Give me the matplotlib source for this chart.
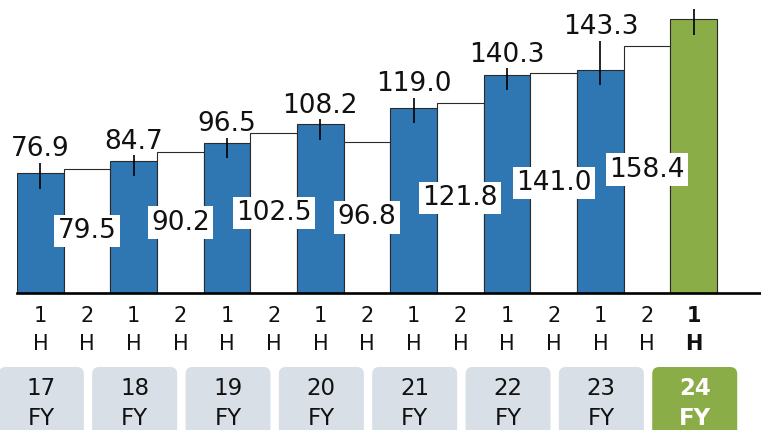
import matplotlib
matplotlib.use("Agg")
import matplotlib.pyplot as plt
from matplotlib.patches import FancyBboxPatch
from matplotlib.transforms import blended_transform_factory, IdentityTransform

plt.rcParams['font.family'] = ['DejaVu Sans']

# Data: half-year sales, 17FY 1H through 24FY 1H
fiscal_years = ['17', '18', '19', '20', '21', '22', '23', '24']
halves = ['1', '2'] * 7 + ['1']
sales = [76.9, 79.5, 84.7, 90.2, 96.5, 102.5, 108.2, 96.8,
         119.0, 121.8, 140.3, 141.0, 143.3, 158.4, 176.0]
value_labels = ['76.9', '79.5', '84.7', '90.2', '96.5', '102.5', '108.2', '96.8',
                '119.0', '121.8', '140.3', '141.0', '143.3', '158.4', '']

# Styling
BLUE = '#2e77b3'
GREEN = '#8aad48'
GRAY_BOX = '#d9dfe7'
EDGE = '#2a2a2a'

W, H = 761, 430
fig = plt.figure(figsize=(W / 100, H / 100), dpi=100)
base_px = 292.7          # x-axis line, pixels from top
px_per_unit = 1.555
ax = fig.add_axes([17 / W, (H - base_px) / H, (W - 17) / W, base_px / H])
ax.set_xlim(-0.5, -0.5 + (W - 17) / 46.67)
ax.set_ylim(0, base_px / px_per_unit)

for s in ('left', 'top', 'right'):
    ax.spines[s].set_visible(False)
ax.spines['bottom'].set_linewidth(1.9)
ax.spines['bottom'].set_color('black')
ax.set_xticks([])
ax.set_yticks([])

n = len(sales)
last = n - 1
colors = []
for i, h in enumerate(halves):
    if i == last:
        colors.append(GREEN)
    elif h == '1':
        colors.append(BLUE)
    else:
        colors.append('white')

ax.bar(range(n), sales, width=1.0, color=colors, edgecolor=EDGE,
       linewidth=0.8, zorder=2)

# label placement for first-half bars (pixels above the bar top)
first_half_idx = [i for i, h in enumerate(halves) if h == '1']
label_rise = [23.7, 18.5, 18.7, 18.3, 23.7, 20.0, 43.0, 0]
leader_above = [9.7, 6.0, 5.0, 5.0, 9.7, 6.7, 29.0, 10.0]
leader_below = 15.5

for k, i in enumerate(first_half_idx):
    v = sales[i]
    ax.vlines(i, v - leader_below / px_per_unit, v + leader_above[k] / px_per_unit,
              color='black', linewidth=1.2, zorder=3, clip_on=False)
    if value_labels[i]:
        ax.annotate(value_labels[i], xy=(i, v), xytext=(0, label_rise[k]),
                    textcoords='offset pixels', ha='center', va='center',
                    fontsize=19, color='#111111', zorder=5)

# second-half labels sit mid-bar on white boxes
for i, h in enumerate(halves):
    if h == '2':
        ax.text(i, sales[i] / 2, value_labels[i], ha='center', va='center',
                fontsize=19, color='#111111', zorder=5,
                bbox=dict(boxstyle='square,pad=0.12', facecolor='white',
                          edgecolor='none'))

# half-year tick labels
tr = blended_transform_factory(ax.transData, fig.transFigure)
for i, h in enumerate(halves):
    weight = 'bold' if i == last else 'normal'
    ax.text(i, 1 - 321.7 / H, h, transform=tr, ha='center', va='baseline',
            fontsize=15, fontweight=weight, color='#111111', clip_on=False)
    ax.text(i, 1 - 350.0 / H, 'H', transform=tr, ha='center', va='baseline',
            fontsize=15, fontweight=weight, color='#111111', clip_on=False)

# fiscal-year boxes
box_w = 85
box_top = 367
for k, fy in enumerate(fiscal_years):
    xc = ax.transData.transform((2 * k, 0))[0] + 1
    is_current = (k == len(fiscal_years) - 1)
    face = GREEN if is_current else GRAY_BOX
    patch = FancyBboxPatch((xc - box_w / 2, -20), box_w, (H - box_top) + 20,
                           boxstyle='round,pad=0,rounding_size=7',
                           facecolor=face, edgecolor='none',
                           transform=IdentityTransform())
    fig.add_artist(patch)
    tcol = 'white' if is_current else '#111111'
    weight = 'bold' if is_current else 'normal'
    fig.text(xc / W, 1 - 395 / H, fy, ha='center', va='baseline',
             fontsize=16.5, color=tcol, fontweight=weight)
    fig.text(xc / W, 1 - 424.7 / H, 'FY', ha='center', va='baseline',
             fontsize=16.5, color=tcol, fontweight=weight)

fig.savefig('out.png', dpi=100)
